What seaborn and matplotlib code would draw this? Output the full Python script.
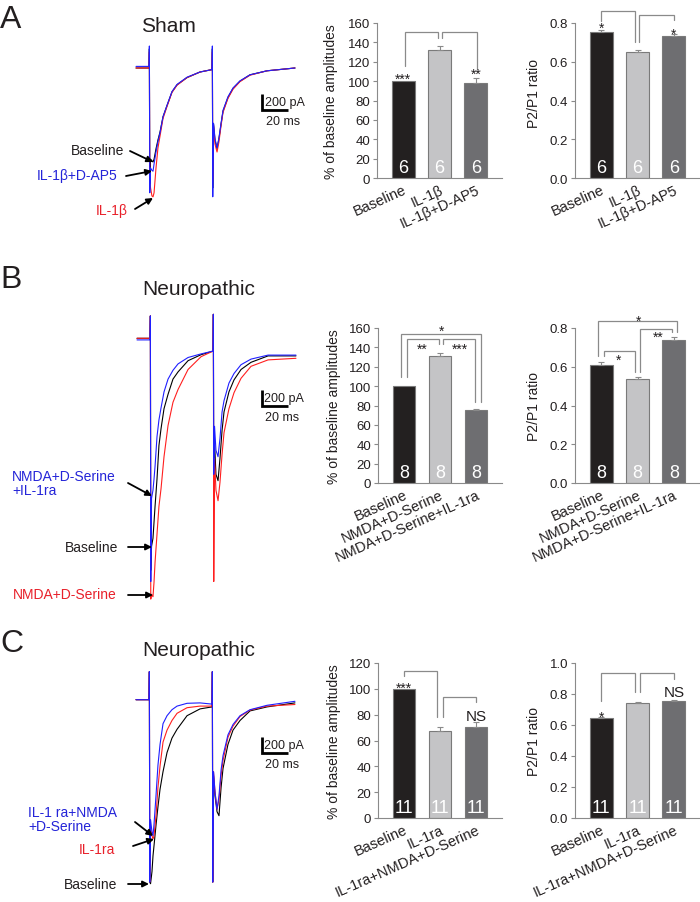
import numpy as np
import pandas as pd
import matplotlib
matplotlib.use('Agg')
import matplotlib.pyplot as plt
import seaborn as sns

sns.set_theme(style='white')
plt.rcParams['font.family'] = ['Liberation Sans', 'DejaVu Sans']

# ---------------- data ----------------
# bar charts
cats_A = ['Baseline', 'IL-1β', 'IL-1β+D-AP5']
amp_A = [100, 132, 98]
amp_A_err = [0, 4, 5]
ppr_A = [0.753, 0.652, 0.731]
ppr_A_err = [0.01, 0.01, 0.01]
n_A = [6, 6, 6]

cats_B = ['Baseline', 'NMDA+D-Serine', 'NMDA+D-Serine+IL-1ra']
amp_B = [100, 131.5, 75.4]
amp_B_err = [0, 3, 1]
ppr_B = [0.611, 0.535, 0.740]
ppr_B_err = [0.013, 0.012, 0.015]
n_B = [8, 8, 8]

cats_C = ['Baseline', 'IL-1ra', 'IL-1ra+NMDA+D-Serine']
amp_C = [100, 67.6, 70.2]
amp_C_err = [0, 2.6, 4]
ppr_C = [0.643, 0.742, 0.753]
ppr_C_err = [0.008, 0.007, 0.01]
n_C = [11, 11, 11]

# traces (time in ms, current in pA)
T_ms = [0, 10.0, 10.3, 10.6, 11.2, 12.3, 13.1, 13.9, 15.4, 16.9, 18.5, 20.8, 23.9, 27.7,
        31.6, 39.3, 49.3, 58.5, 58.8, 59.1, 59.7, 60.8, 62.4, 63.9, 65.5, 67.0, 70.8,
        74.7, 80.1, 87.8, 100.9, 122.4]
A_base = [0, 0, 240, -1450, -1140, -1160, -1175, -1140, -1010, -900, -800, -610, -470, -300,
          -210, -120, -50, -20, 240, -1500, -700, -900, -1010, -880, -700, -540, -370,
          -255, -165, -85, -35, 0]
A_il1b = [0, 0, 200, -1400, -1500, -1600, -1610, -1560, -1250, -1000, -850, -630, -480, -305,
          -215, -120, -50, -20, 200, -1400, -720, -950, -1050, -920, -720, -555, -380,
          -265, -170, -90, -35, 0]
A_dap5 = [20, 20, 275, -1560, -1250, -1280, -1290, -1200, -1050, -920, -810, -610, -465, -295,
          -205, -115, -50, -20, 275, -1610, -690, -880, -1000, -870, -690, -530, -360,
          -250, -160, -85, -35, 0]
B_base = [0, 0, 280, -2900, -2600, -2500, -2300, -2100, -1760, -1340, -1130, -880, -700, -510,
          -420, -280, -205, -160, 300, -1900, -1300, -1700, -1780, -1500, -1150, -920, -670,
          -520, -390, -300, -220, -220]
B_nmda = [0, 0, 280, -3260, -3200, -3230, -3050, -2800, -2450, -2100, -1880, -1480, -1090, -800,
          -640, -390, -230, -160, 300, -3040, -1500, -1900, -2030, -1800, -1450, -1180, -880,
          -680, -500, -350, -270, -250]
B_ra = [-20, -20, 280, -3040, -2000, -1900, -1760, -1600, -1230, -1020, -870, -670, -510, -400,
        -320, -240, -195, -160, 300, -1700, -1100, -1400, -1480, -1250, -920, -780, -560,
        -440, -330, -260, -210, -210]
C_base = [0, 0, 350, -2280, -2300, -2150, -1950, -1820, -1570, -1340, -1120, -900, -660, -480,
          -370, -200, -115, -90, 350, -2280, -950, -1200, -1400, -1450, -1100, -860, -560,
          -380, -260, -140, -90, -40]
C_ra = [0, 0, 350, -2280, -1600, -1700, -1740, -1700, -1450, -1100, -830, -530, -380, -260,
        -170, -100, -80, -80, 350, -2280, -900, -1150, -1370, -1250, -950, -760, -470,
        -330, -210, -130, -80, -60]
C_mix = [0, 0, 350, -2280, -1500, -1650, -1700, -1550, -1200, -820, -560, -300, -200, -125,
         -80, -45, -40, -55, 350, -2280, -900, -1150, -1370, -1200, -880, -700, -440,
         -310, -200, -125, -70, -20]

# ---------------- layout helpers ----------------
W, H = 700, 903
fig = plt.figure(figsize=(7, 9.03), dpi=100)


def box(x0, y0, x1, y1):
    return [x0 / W, 1 - y1 / H, (x1 - x0) / W, (y1 - y0) / H]


def fp(x, y):
    return (x / W, 1 - y / H)


BLACK = '#000000'
RED = '#ff1f1f'
BLUE = '#1f1fff'
TXT_BLUE = '#2424d8'
TXT_RED = '#e8202a'
DARK = '#231f20'
GRAY = '#8a8a8a'
bar_colors = ['#231f20', '#c4c4c6', '#6d6e71']

MS_PER_PX = 0.77
PA_PER_PX = 12.5


def trace_panel(y0, y1, start_x, base_y, traces, bar_corner, lw=0.8):
    x0, x1 = 130, 300
    ax = fig.add_axes(box(x0, y0, x1, y1))
    ax.set_xlim((x0 - start_x) * MS_PER_PX, (x1 - start_x) * MS_PER_PX)
    ax.set_ylim((base_y - y1) * PA_PER_PX, (base_y - y0) * PA_PER_PX)
    ax.set_axis_off()
    for vals, col in traces:
        df = pd.DataFrame({'t': T_ms, 'i': vals})
        sns.lineplot(data=df, x='t', y='i', color=col, lw=lw, sort=False,
                     estimator=None, ax=ax)
    t0, i0 = bar_corner
    ax.plot([t0, t0, t0 + 20], [i0 + 200, i0, i0], color='black', lw=2.0,
            solid_joinstyle='miter', solid_capstyle='butt', clip_on=False)
    ax.text(t0 + 2.0, i0 + 95, '200 pA', fontsize=9, ha='left', va='center', color=DARK)
    ax.text(t0 + 16, i0 - 140, '20 ms', fontsize=9, ha='center', va='center', color=DARK)
    return ax


def label(text, tx, ty, ax_, ay_, color, ha='right'):
    fig.text(*fp(tx, ty), text, ha=ha, va='center', fontsize=10, color=color,
             linespacing=1.05)
    fig.add_artist(matplotlib.patches.FancyArrowPatch(
        fp(ax_[0], ax_[1]), fp(ay_[0], ay_[1]), transform=fig.transFigure,
        arrowstyle='-|>', mutation_scale=9, color='black', lw=1.3,
        shrinkA=0, shrinkB=0))


def bar_panel(rect, cats, vals, errs, ns, ylim, yticks, fmt, ylabel, lab_x, lab_y=0.5):
    ax = fig.add_axes(rect)
    df = pd.DataFrame({'cond': cats, 'val': vals})
    sns.barplot(data=df, x='cond', y='val', hue='cond', order=cats, hue_order=cats,
                palette=bar_colors, legend=False, width=0.63, edgecolor='#7a7a7a',
                linewidth=0.8, errorbar=None, ax=ax)
    idx = [i for i in range(len(vals)) if errs[i] > 0]
    ax.errorbar(idx, [vals[i] for i in idx],
                yerr=[np.zeros(len(idx)), [errs[i] for i in idx]],
                fmt='none', ecolor=GRAY, elinewidth=0.8, capsize=2.5, capthick=0.8)
    ax.set_xlim(-0.72, 2.72)
    ax.set_ylim(*ylim)
    ax.set_yticks(yticks)
    ax.set_yticklabels([fmt.format(v) for v in yticks])
    ax.set_xlabel('')
    ax.set_ylabel(ylabel, fontsize=10, color=DARK)
    ax.yaxis.set_label_coords(lab_x, lab_y)
    for s in ['top', 'right']:
        ax.spines[s].set_visible(False)
    for s in ['left', 'bottom']:
        ax.spines[s].set_color(GRAY)
        ax.spines[s].set_linewidth(0.8)
    ax.tick_params(axis='y', length=3, width=0.8, color=GRAY, labelsize=9.5,
                   pad=2, labelcolor=DARK, left=True)
    ax.tick_params(axis='x', length=0, labelsize=10.5, pad=3, labelcolor=DARK)
    ax.set_xticks(range(3))
    ax.set_xticklabels(cats, rotation=24, ha='right', rotation_mode='anchor')
    for i, n in enumerate(ns):
        ax.annotate(str(n), (i, 0), xytext=(0, 4), textcoords='offset points',
                    ha='center', va='baseline', color='white', fontsize=13)
    ax.grid(False)
    return ax


def brackets(ax, specs):
    for x1, y1, x2, y2, top in specs:
        ax.plot([x1, x1, x2, x2], [y1, top, top, y2], color=GRAY, lw=0.9,
                clip_on=False, solid_joinstyle='miter')


def marks(ax, specs, size=10):
    for x, y, s in specs:
        ax.annotate(s, (x, y), xytext=(0, -2 if '*' in s else 0),
                    textcoords='offset points', ha='center', va='center',
                    fontsize=size if '*' in s else 11, color=DARK, annotation_clip=False)


# ---------------- panel letters & titles ----------------
fig.text(*fp(0, 28), 'A', fontsize=23, ha='left', va='baseline', color=DARK)
fig.text(*fp(0, 288), 'B', fontsize=23, ha='left', va='baseline', color=DARK)
fig.text(*fp(0, 652), 'C', fontsize=23, ha='left', va='baseline', color=DARK)
fig.text(*fp(168, 32), 'Sham', fontsize=15, ha='center', va='baseline', color=DARK)
fig.text(*fp(199, 295), 'Neuropathic', fontsize=15, ha='center', va='baseline', color=DARK)
fig.text(*fp(199, 656), 'Neuropathic', fontsize=15, ha='center', va='baseline', color=DARK)

# ---------------- traces ----------------
trace_panel(40, 215, 136, 69, [(A_base, BLACK), (A_il1b, RED), (A_dap5, BLUE)], (97.0, -525))
trace_panel(305, 610, 137, 339.3, [(B_base, BLACK), (B_nmda, RED), (B_ra, BLUE)], (96.0, -842))
trace_panel(665, 895, 136, 700.7, [(C_base, BLACK), (C_ra, RED), (C_mix, BLUE)], (96.8, -666))

label('Baseline', 124, 151, (130, 152), (153, 163), DARK)
label('IL-1β+D-AP5', 118, 176, (126, 177), (152, 172), TXT_BLUE)
label('IL-1β', 128, 211, (135, 210), (153, 199), TXT_RED)

label('NMDA+D-Serine\n+IL-1ra', 12, 484, (128, 484), (152, 497), TXT_BLUE, ha='left')
label('Baseline', 118, 548, (128, 548), (152, 548), DARK)
label('NMDA+D-Serine', 117, 595, (128, 596), (153, 596), TXT_RED)

label('IL-1 ra+NMDA\n+D-Serine', 28, 820, (135, 823), (153, 837), TXT_BLUE, ha='left')
label('IL-1ra', 115, 850, (133, 847), (154, 840), TXT_RED)
label('Baseline', 117, 885, (128, 885), (149, 885), DARK)

# ---------------- bar charts ----------------
amp_lab = '% of baseline amplitudes'
ppr_lab = 'P2/P1 ratio'

a1 = bar_panel(box(377, 24, 502, 179), cats_A, amp_A, amp_A_err, n_A, (0, 160),
               list(range(0, 161, 20)), '{:d}', amp_lab, -0.31)
brackets(a1, [(0.04, 115.9, 0.96, 144.2, 150.3), (1.08, 144.2, 2.02, 112.5, 150.3)])
marks(a1, [(0, 105.3, '***'), (2, 110.4, '**')])

a2 = bar_panel(box(575, 24, 700, 179), cats_A, ppr_A, ppr_A_err, n_A, (0, 0.8),
               [0, 0.2, 0.4, 0.6, 0.8], '{:.1f}', ppr_lab, -0.27, 0.55)
brackets(a2, [(0.0, 0.812, 0.93, 0.700, 0.860), (1.05, 0.700, 2.0, 0.817, 0.843)])
marks(a2, [(0, 0.79, '*'), (2, 0.76, '*')])

b1 = bar_panel(box(378, 329, 502, 484), cats_B, amp_B, amp_B_err, n_B, (0, 160),
               list(range(0, 161, 20)), '{:d}', amp_lab, -0.30)
brackets(b1, [(-0.08, 109.4, 2.13, 83.6, 153.8), (0.09, 109.4, 0.96, 143.4, 148.6),
              (1.08, 143.4, 1.97, 83.6, 148.6)])
marks(b1, [(1.03, 160, '*'), (0.5, 141.7, '**'), (1.56, 141.7, '***')])

b2 = bar_panel(box(575, 329, 700, 484), cats_B, ppr_B, ppr_B_err, n_B, (0, 0.8),
               [0, 0.2, 0.4, 0.6, 0.8], '{:.1f}', ppr_lab, -0.27)
brackets(b2, [(-0.1, 0.655, 2.1, 0.779, 0.836), (0.08, 0.655, 0.92, 0.573, 0.681),
              (1.06, 0.573, 1.94, 0.779, 0.795)])
marks(b2, [(1.03, 0.852, '*'), (0.48, 0.65, '*'), (1.56, 0.77, '**')])

c1 = bar_panel(box(378, 664, 502, 819), cats_C, amp_C, amp_C_err, n_C, (0, 120),
               list(range(0, 121, 20)), '{:d}', amp_lab, -0.30)
brackets(c1, [(0.0, 110.2, 0.91, 78, 114), (1.08, 78, 1.99, 89.6, 93.4)])
marks(c1, [(0, 103, '***'), (2.0, 79.2, 'NS')])

c2 = bar_panel(box(575, 664, 700, 819), cats_C, ppr_C, ppr_C_err, n_C, (0, 1.0),
               [0, 0.2, 0.4, 0.6, 0.8, 1.0], '{:.1f}', ppr_lab, -0.27)
brackets(c2, [(0.0, 0.757, 0.93, 0.81, 0.934), (1.06, 0.81, 2.0, 0.897, 0.934)])
marks(c2, [(0, 0.67, '*'), (2.0, 0.813, 'NS')])

fig.savefig('out.png', dpi=100)
